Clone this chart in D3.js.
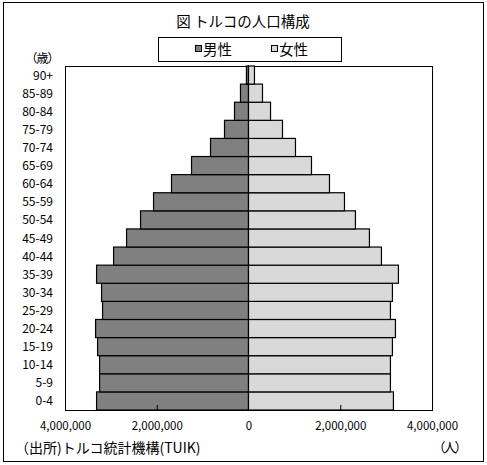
<!DOCTYPE html>
<html><head><meta charset="utf-8">
<script src="https://cdn.jsdelivr.net/npm/d3@7"></script>
<style>
body{margin:0;background:#fff;}
text{font-family:"Noto Sans CJK JP",sans-serif;fill:#000;}
</style></head>
<body><svg id="c" width="487" height="465"></svg>
<script>
const ages = ["0-4","5-9","10-14","15-19","20-24","25-29","30-34","35-39","40-44","45-49","50-54","55-59","60-64","65-69","70-74","75-79","80-84","85-89","90+"];
const male = [3312000,3246000,3246000,3290000,3333000,3181000,3203000,3312000,2941000,2658000,2353000,2070000,1678000,1242000,828000,523000,305000,175000,45000];
const female = [3159000,3094000,3094000,3137000,3203000,3094000,3137000,3268000,2898000,2636000,2331000,2092000,1765000,1373000,1024000,741000,480000,305000,130000];
const xTicks = [-4000000,-2000000,0,2000000,4000000];
const seriesNames = ["男性","女性"];
const colors = ["#808080","#d9d9d9"];
const title = "図 トルコの人口構成";
const source = "（出所)トルコ統計機構(TUIK)";

const svg = d3.select("#c");
svg.append("rect").attr("x",3.5).attr("y",2.5).attr("width",480).attr("height",459)
  .attr("fill","#fff").attr("stroke","#000");

const L=65, R=432, T=66, B=410;
const x = d3.scaleLinear().domain([-4000000,4000000]).range([L,R]);
const y = d3.scaleBand().domain(ages).range([B,T]).padding(0);

svg.append("text").attr("x",243).attr("y",27).attr("text-anchor","middle")
  .attr("font-size",14.5).text(title);

// legend
svg.append("rect").attr("x",158.5).attr("y",37.5).attr("width",183).attr("height",24)
  .attr("fill","#fff").attr("stroke","#000");
const legX=[195,271];
seriesNames.forEach((n,i)=>{
  svg.append("rect").attr("x",legX[i]+0.5).attr("y",45.5).attr("width",6).attr("height",6)
    .attr("fill",colors[i]).attr("stroke","#000");
  svg.append("text").attr("x",legX[i]+8).attr("y",54.5).attr("font-size",14.5).text(n);
});

// plot box
svg.append("rect").attr("x",L+0.5).attr("y",T+0.5).attr("width",R-L).attr("height",B-T)
  .attr("fill","#fff").attr("stroke","#000");

const g = svg.append("g");
g.selectAll("rect.m").data(ages).join("rect").attr("class","m")
  .attr("x",(d,i)=>x(-male[i])).attr("y",d=>y(d))
  .attr("width",(d,i)=>x(0)-x(-male[i])).attr("height",y.bandwidth())
  .attr("fill",colors[0]).attr("stroke","#000").attr("stroke-width",1.2);
g.selectAll("rect.f").data(ages).join("rect").attr("class","f")
  .attr("x",x(0)).attr("y",d=>y(d))
  .attr("width",(d,i)=>x(female[i])-x(0)).attr("height",y.bandwidth())
  .attr("fill",colors[1]).attr("stroke","#000").attr("stroke-width",1.2);

// y labels
svg.selectAll("text.yl").data(ages).join("text").attr("class","yl")
  .attr("x",53).attr("y",d=>y(d)+y.bandwidth()/2+4.5).attr("text-anchor","end")
  .attr("font-size",12).attr("font-family","\"Liberation Mono\",monospace").text(d=>d);
svg.append("text").attr("x",42).attr("y",62.5).attr("text-anchor","middle")
  .attr("font-size",12).attr("letter-spacing",-1).text("（歳）");

// x axis
const fmt = d3.format(",");
const ax = svg.append("g").attr("transform",`translate(0,${B})`)
  .call(d3.axisBottom(x).tickValues(xTicks).tickSize(-5).tickSizeOuter(0).tickFormat(d=>fmt(Math.abs(d))));
ax.select(".domain").remove();
ax.selectAll(".tick line").attr("stroke","#000").attr("opacity",(d)=>Math.abs(d)===2000000?1:0);
ax.selectAll(".tick text").attr("y",12).attr("font-size",11.5).attr("font-family","\"DejaVu Serif\",serif");

svg.append("text").attr("x",449).attr("y",452).attr("text-anchor","middle").attr("font-size",13)
  .attr("letter-spacing",-2).text("（人）");
svg.append("text").attr("x",15).attr("y",453).attr("font-size",14).text(source);
</script></body></html>
